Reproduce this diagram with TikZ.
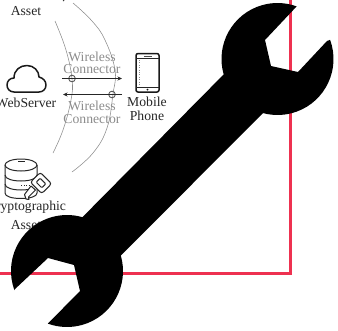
\documentclass[tikz,border=0pt]{standalone}
\usepackage{fontspec}
\setmainfont{Liberation Serif}
\usetikzlibrary{arrows.meta}
\definecolor{framered}{HTML}{EE3150}
\definecolor{faint}{HTML}{8C8C8C}
\tikzset{
  lbl/.style={inner sep=0pt,font=\fontsize{13.7}{14}\selectfont,text=black!85},
  faintlbl/.style={lbl,text=faint},
  arcline/.style={draw=faint,line width=0.55pt},
  frame/.style={draw=framered,line width=3.2pt},
  link/.style={draw=black!85,line width=0.9pt,-{Stealth[length=4.5pt,width=4pt]}},
  ring/.style={circle,draw=black!65,line width=0.9pt,minimum size=6.6pt,inner sep=0pt},
  icon/.style={draw=black!90,line width=1.5pt,line join=round},
  thinicon/.style={draw=black!85,line width=1pt,line join=round},
}
\begin{document}
\begin{tikzpicture}[x=1pt,y=-1pt]
\useasboundingbox (0,0) rectangle (338,330);
\clip (0,0) rectangle (338,330);
% frame
\draw[frame,line join=miter] (290.7,-3) -- (290.7,273.4) -- (-3,273.4);
% labels
\node[lbl] (assetTop) at (26,11) {Asset};
\draw[black!85,line width=0.7pt] (65,-1) -- (63,1.2);
\node[lbl] (web) at (26,103) {WebServer};
\node[lbl] (mobile) at (147,102) {Mobile};
\node[lbl] (phone) at (147,116) {Phone};
\node[lbl] (crypto) at (26.5,207) {Cryptographic};
\node[lbl] (assetBot) at (26,225) {Asset};
\node[faintlbl] (w1) at (92,57) {Wireless};
\node[faintlbl] (c1) at (92,69) {Connector};
\node[faintlbl] (w2) at (92,106) {Wireless};
\node[faintlbl] (c2) at (92,119) {Connector};
% arcs
\draw[arcline] plot[smooth,tension=0.7] coordinates {(73,3) (92,21) (105,40) (115,70) (113,94) (107,128) (93,153) (72,172)};
\draw[arcline] plot[smooth,tension=0.7] coordinates {(55,21) (66,50) (72,79) (71,100) (63,130) (53,153)};
% connectors
\node[ring] (r1) at (72,78.5) {};
\node[ring] (r2) at (112,94.5) {};
\coordinate (a1s) at (62,78.5);
\coordinate (a1e) at (122,78.5);
\coordinate (a2s) at (122,94.5);
\coordinate (a2e) at (63,94.5);
\draw[link] (a1s) -- (a1e);
\draw[link] (a2s) -- (a2e);
% cloud
\draw[icon] (14,92) .. controls (9.5,92) and (7,88.5) .. (7,85)
  .. controls (7,81) and (10,78) .. (14,78)
  .. controls (14,70) and (20,65.5) .. (27,65.5)
  .. controls (34,65.5) and (39,71) .. (39,77)
  .. controls (43,78) and (46,81) .. (46,85)
  .. controls (46,89) and (43,92) .. (39,92) -- cycle;
% phone
\draw[icon,rounded corners=2pt] (136,53.5) rectangle (159,92);
\draw[thinicon] (136,58.5) -- (159,58.5) (136,87) -- (159,87);
\draw[black!70,line width=0.8pt] (144,56) -- (152,56);
\fill[black!90] (147.5,89.6) circle (1.1pt);
\draw[black!45,line width=0.9pt,dash pattern=on 0.8pt off 1.6pt] (139,60) -- (139,86);
% database
\draw[thinicon,fill=white] (5,165) -- (5,193) .. controls (5,196.5) and (12,198.5) .. (21,198.5)
  .. controls (30,198.5) and (37,196.5) .. (37,193) -- (37,165);
\draw[thinicon] (21,165) ellipse[x radius=16pt,y radius=6pt];
\draw[thinicon] (5,175) .. controls (5,179) and (13,181) .. (21,181) .. controls (29,181) and (37,179) .. (37,175);
\draw[thinicon] (5,184) .. controls (5,188) and (13,190) .. (21,190) .. controls (24,190) and (26,189.8) .. (28,189.5);
\draw[black!85,line width=0.9pt] (18,161) -- (25,161);
\draw[black!85,line width=0.9pt,dash pattern=on 1pt off 1.5pt] (21,185) -- (30,185);
% key
\begin{scope}[shift={(41,183)},rotate=45]
  \draw[thinicon,fill=white] (-7,-8) [rounded corners=2.5pt] -- (7,-8) -- (7,8) -- (-7,8) -- cycle;
  \draw[thinicon,rounded corners=1pt] (-2.8,-4) rectangle (2.8,4);
\end{scope}
\draw[thinicon,fill=white] (35.5,190) -- (28.5,197) -- (29,199.5) -- (26,199) -- (24.5,194.5) -- (31,186) -- cycle;
% wrench
\begin{scope}[shift={(0,330)},y=1pt]
\fill[black] (327,289)
  -- ([shift={(20:56pt)}]277.5,271) arc[start angle=20,end angle=-105,radius=56pt]
  -- ([shift={(16:56pt)}]67,59) arc[start angle=16,end angle=-110,radius=56pt]
  -- (80,39) -- (74,65) -- (48,72) -- (14,40)
  -- ([shift={(200:56pt)}]67,59) arc[start angle=200,end angle=74,radius=56pt]
  -- ([shift={(196:56pt)}]277.5,271) arc[start angle=196,end angle=70,radius=56pt]
  -- (265,290) -- (271,264) -- (298,258) -- cycle;
\end{scope}
\end{tikzpicture}
\end{document}
